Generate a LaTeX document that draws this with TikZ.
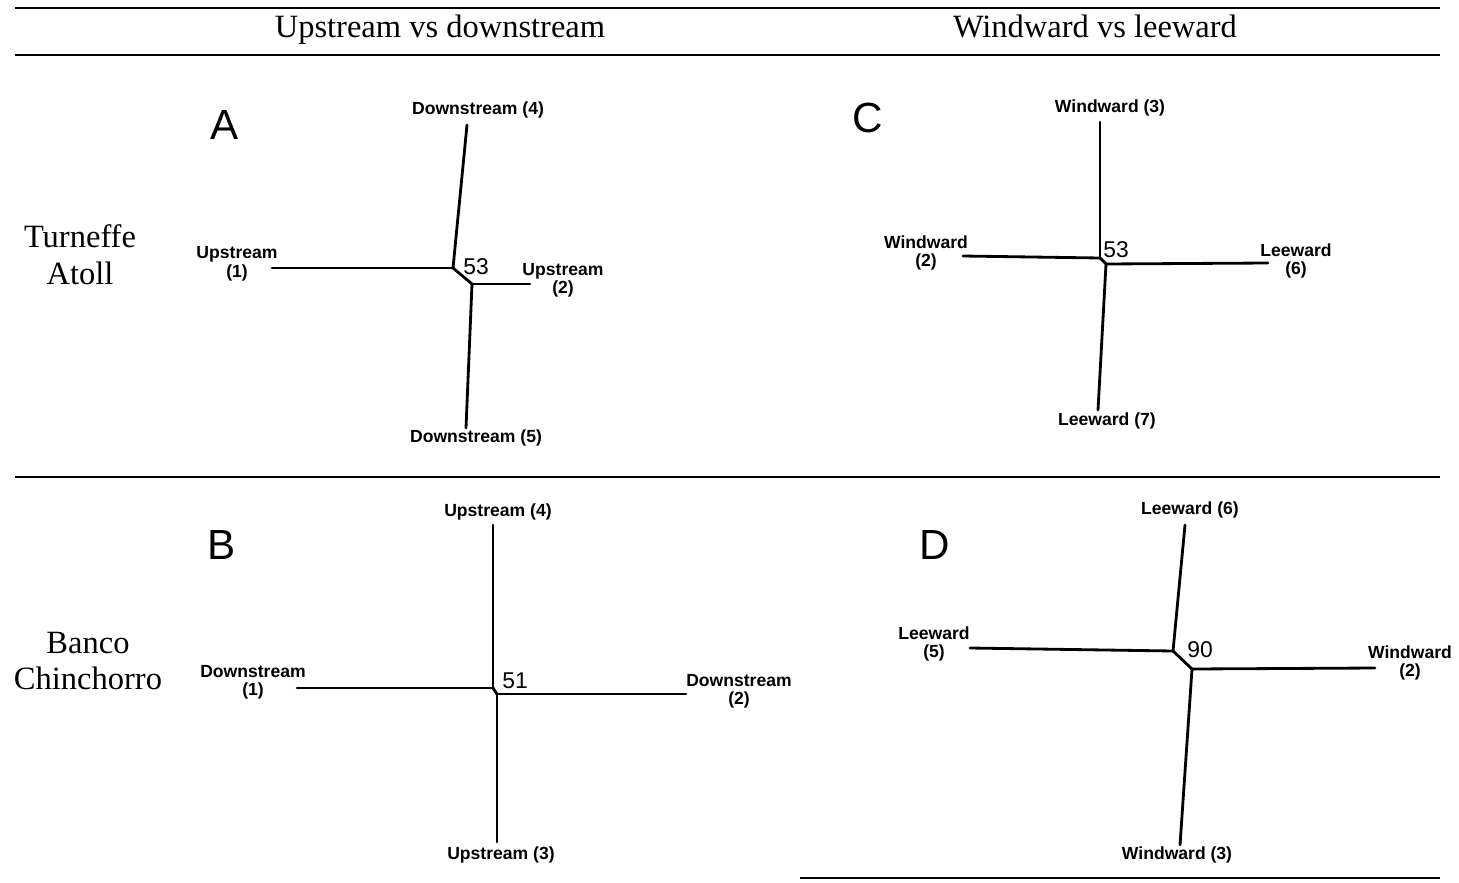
\documentclass[tikz,border=0pt]{standalone}
\usepackage{fontspec}
\setmainfont{Liberation Serif}
\newfontfamily\labelfont{Liberation Sans}
\usetikzlibrary{positioning}

\begin{document}
\begin{tikzpicture}[x=0.02cm, y=-0.02cm,
    edge/.style={line width=1.6pt, line cap=round, line join=round},
    rule/.style={line width=1.2pt},
    leaf/.style={font=\labelfont\bfseries\fontsize{10}{10.5}\selectfont, align=center, inner sep=1pt},
    support/.style={font=\labelfont\fontsize{13}{13}\selectfont, inner sep=1pt},
    panel/.style={font=\labelfont\fontsize{24}{24}\selectfont, inner sep=0pt},
    head/.style={font=\fontsize{18.5}{20}\selectfont, inner sep=0pt, anchor=base},
    site/.style={font=\fontsize{18.5}{21}\selectfont, align=center, inner sep=0pt}
  ]
  \useasboundingbox (0,0) rectangle (1459,882);

  % rules
  \coordinate (r1) at (15,8);    \coordinate (r2) at (1440,8);
  \coordinate (r3) at (15,55);   \coordinate (r4) at (1440,55);
  \coordinate (r5) at (15,477);  \coordinate (r6) at (1440,477);
  \coordinate (r7) at (800,878); \coordinate (r8) at (1440,878);
  \foreach \x/\y in {r1/r2,r3/r4,r5/r6,r7/r8} {
    \draw[rule] (\x) -- (\y);
  }

  % headings
  \node[head] (h1) at (440,38) {Upstream vs downstream};
  \node[head] (h2) at (1095,38) {Windward vs leeward};
  \node[site] (t1) at (80,255) {Turneffe\\Atoll};
  \node[site] (t2) at (88,661) {Banco\\Chinchorro};

  % panel letters
  \node[panel] (pa) at (225,125) {A};
  \node[panel] (pb) at (222,545) {B};
  \node[panel] (pc) at (868,118) {C};
  \node[panel] (pd) at (935,545) {D};

  % tree A
  \coordinate (a1) at (453,268);
  \coordinate (a2) at (472,284);
  \coordinate (a3) at (467,125);
  \coordinate (a4) at (272,268);
  \coordinate (a5) at (530,284);
  \coordinate (a6) at (466,428);
  \node[leaf] (la3) at (478,110) {Downstream (4)};
  \node[leaf] (la4) at (237,264) {Upstream\\(1)};
  \node[leaf] (la5) at (563,280) {Upstream\\(2)};
  \node[leaf] (la6) at (476,438) {Downstream (5)};
  \node[support] (sa) at (476,267) {53};

  % tree C
  \coordinate (c1) at (1100,258);
  \coordinate (c2) at (1106,264);
  \coordinate (c3) at (1100,122);
  \coordinate (c4) at (963,256);
  \coordinate (c5) at (1268,263);
  \coordinate (c6) at (1098,410);
  \node[leaf] (lc3) at (1110,108) {Windward (3)};
  \node[leaf] (lc4) at (926,253) {Windward\\(2)};
  \node[leaf] (lc5) at (1296,261) {Leeward\\(6)};
  \node[leaf] (lc6) at (1107,421) {Leeward (7)};
  \node[support] (sc) at (1116,250) {53};

  % tree B
  \coordinate (b1) at (493,688);
  \coordinate (b2) at (497,694);
  \coordinate (b3) at (493,525);
  \coordinate (b4) at (297,688);
  \coordinate (b5) at (686,694);
  \coordinate (b6) at (497,842);
  \node[leaf] (lb3) at (498,512) {Upstream (4)};
  \node[leaf] (lb4) at (253,682) {Downstream\\(1)};
  \node[leaf] (lb5) at (739,691) {Downstream\\(2)};
  \node[leaf] (lb6) at (501,855) {Upstream (3)};
  \node[support] (sb) at (515,681) {51};

  % tree D
  \coordinate (d1) at (1173,651);
  \coordinate (d2) at (1192,669);
  \coordinate (d3) at (1185,525);
  \coordinate (d4) at (970,648);
  \coordinate (d5) at (1375,668);
  \coordinate (d6) at (1180,845);
  \node[leaf] (ld3) at (1190,510) {Leeward (6)};
  \node[leaf] (ld4) at (934,644) {Leeward\\(5)};
  \node[leaf] (ld5) at (1410,663) {Windward\\(2)};
  \node[leaf] (ld6) at (1177,855) {Windward (3)};
  \node[support] (sd) at (1200,650) {90};

  \foreach \t in {a,b,c,d} {
    \foreach \x/\y in {1/2,1/3,1/4,2/5,2/6} {
      \draw[edge] (\t\x) -- (\t\y);
    }
  }
\end{tikzpicture}
\end{document}
